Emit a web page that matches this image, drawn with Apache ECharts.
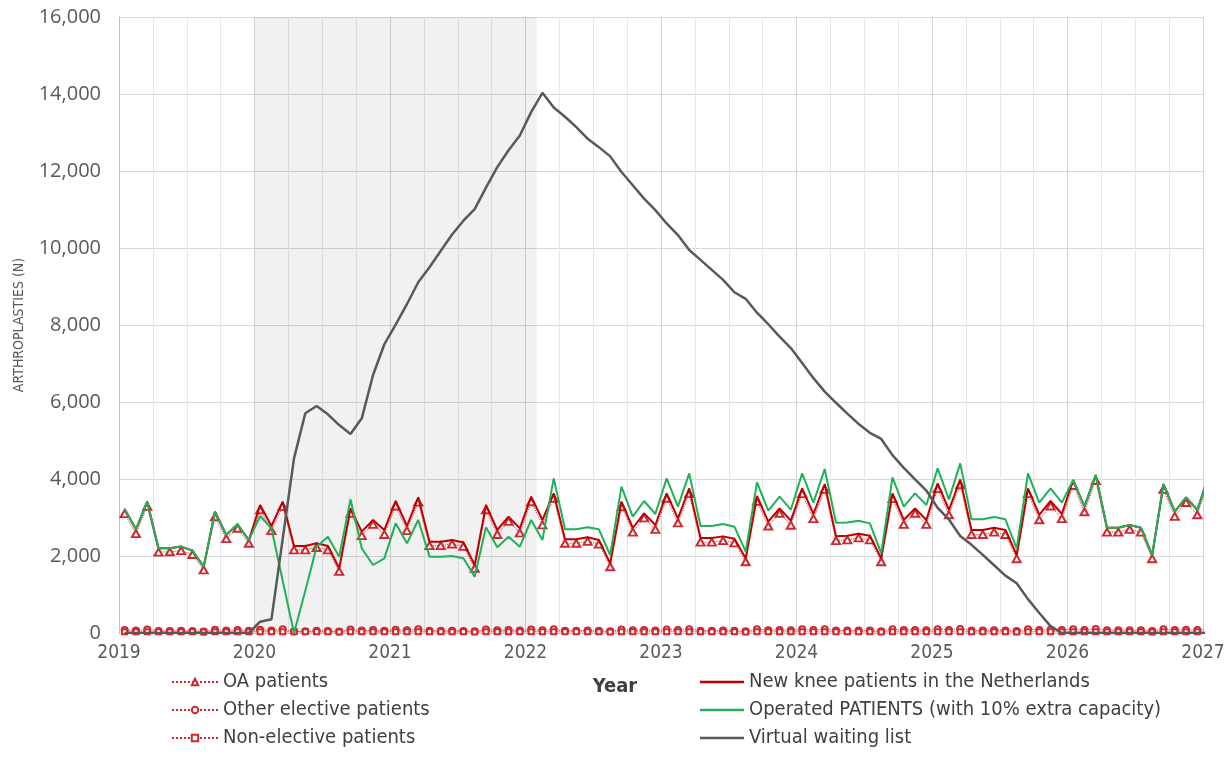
<!DOCTYPE html>
<html>
<head>
<meta charset="utf-8">
<script src="https://cdn.jsdelivr.net/npm/echarts@6/dist/echarts.min.js"></script>
<style>
html,body{margin:0;padding:0;background:#fff;}
#chart{width:1231px;height:780px;}
</style>
</head>
<body>
<div id="chart"></div>
<script>
// ---- Data (monthly, Jan 2019 .. Jan 2027) ----
const startYear = 2019;
const monthCount = 97;
const yearTicks = [2019, 2020, 2021, 2022, 2023, 2024, 2025, 2026, 2027];
const lockdownPeriod = ['2020-01', '2022-01']; // shaded period (first month, last month)

const oaPatients = [
  3100,2580,3290,2100,2110,2140,2040,1640,3020,2450,2720,2330,
  3200,2660,3290,2160,2160,2220,2160,1600,3110,2530,2820,2560,
  3300,2660,3400,2270,2270,2310,2250,1680,3200,2560,2900,2600,
  3410,2810,3500,2330,2330,2380,2310,1720,3280,2620,2990,2690,
  3500,2860,3620,2360,2360,2400,2340,1850,3420,2780,3110,2800,
  3620,2970,3730,2400,2420,2470,2420,1850,3490,2820,3110,2820,
  3750,3070,3850,2560,2560,2620,2560,1930,3620,2940,3300,2970,
  3830,3150,3960,2620,2620,2690,2620,1930,3730,3030,3390,3070,
  3960];
const otherElective = [
  80,65,90,55,55,60,55,40,85,65,75,60,
  85,65,95,40,45,60,55,40,90,65,75,60,
  85,70,95,60,60,60,55,45,90,70,75,65,
  90,70,95,60,60,65,60,45,90,70,80,65,
  90,75,100,60,60,65,60,45,95,70,80,70,
  95,75,100,65,65,65,65,45,95,75,80,70,
  95,80,105,65,65,70,65,50,100,75,85,75,
  100,80,105,70,70,70,70,50,100,75,85,75,
  100];
const nonElective = [
  35,30,35,30,30,30,30,25,35,30,30,30,
  35,30,35,30,30,30,30,25,35,30,30,30,
  35,30,35,30,30,30,30,25,35,30,30,30,
  35,30,35,30,30,30,30,25,35,30,30,30,
  35,30,35,30,30,30,30,25,35,30,30,30,
  35,30,35,30,30,30,30,25,35,30,30,30,
  35,30,35,30,30,30,30,25,35,30,30,30,
  35,30,35,30,30,30,30,25,35,30,30,30,
  35];
const newKneePatients = [
  3221,2693,3411,2199,2200,2245,2140,1723,3151,2545,2823,2416,
  3325,2779,3411,2260,2260,2330,2260,1680,3238,2632,2935,2675,
  3429,2779,3524,2372,2372,2415,2350,1766,3325,2675,3021,2718,
  3541,2935,3628,2434,2434,2485,2416,1809,3411,2727,3108,2805,
  3628,2978,3757,2467,2467,2510,2450,1939,3558,2892,3238,2918,
  3757,3091,3870,2510,2527,2580,2527,1939,3628,2935,3238,2935,
  3887,3195,3991,2675,2675,2736,2675,2026,3757,3065,3429,3091,
  3974,3281,4104,2736,2736,2805,2736,2026,3870,3151,3524,3195,
  4100];
const operatedPatients = [
  3221,2693,3411,2199,2200,2245,2140,1723,3151,2545,2823,2416,
  3039,2720,1350,0,1100,2242,2502,1983,3472,2199,1766,1939,
  2848,2329,2935,1983,1983,2000,1940,1463,2744,2225,2502,2242,
  2935,2416,4017,2693,2693,2744,2693,2026,3801,3021,3429,3091,
  4017,3281,4147,2779,2779,2830,2762,2112,3913,3177,3541,3203,
  4147,3385,4260,2865,2870,2918,2848,2069,4043,3281,3628,3325,
  4277,3472,4407,2952,2952,3012,2952,2199,4147,3385,3757,3385,
  3974,3281,4104,2736,2736,2805,2736,2026,3870,3151,3524,3195,
  4100];
const virtualWaitingList = [
  0,0,0,0,0,0,0,0,0,0,0,0,
  294,355,2450,4537,5706,5896,5680,5400,5169,5576,6700,7500,
  8009,8540,9110,9500,9930,10350,10710,11010,11570,12100,12540,12920,
  13530,14030,13650,13410,13140,12840,12620,12380,11974,11629,11284,10983,
  10638,10336,9948,9690,9431,9172,8850,8680,8320,8020,7700,7400,
  7010,6620,6270,5980,5700,5430,5200,5040,4620,4290,3990,3700,
  3250,2950,2520,2290,2030,1760,1490,1290,880,520,180,0,
  0,0,0,0,0,0,0,0,0,0,0,0,
  0];
const yTicks = [0, 2000, 4000, 6000, 8000, 10000, 12000, 14000, 16000];

// ---- helpers ----
// month index -> decimal year at mid-month
const monthX = [];
for (let i = 0; i < monthCount; i++) monthX.push(startYear + (i + 0.5) / 12);
function ym(s, end) { const [y, m] = s.split('-').map(Number); return y + (m - 1 + (end ? 1 : 0)) / 12; }
const pair = arr => arr.map((v, i) => [monthX[i], v]);

const RED = '#c00000', MRED = '#cc2a30', GREEN = '#21b05a', GRAY = '#595959';
const condensed = "'DejaVu Sans Condensed', 'Liberation Sans Narrow', sans-serif";

const chart = echarts.init(document.getElementById('chart'), null, {renderer: 'canvas'});
chart.setOption({
  animation: false,
  backgroundColor: '#ffffff',
  grid: {left: 119, right: 28, top: 17, bottom: 147, containLabel: false},
  xAxis: {
    type: 'value', min: yearTicks[0], max: yearTicks[yearTicks.length - 1], interval: 1,
    name: 'Year', nameLocation: 'middle', nameGap: 44,
    nameTextStyle: {fontFamily: condensed, fontSize: 20, fontWeight: 'bold', color: '#404040', padding: [0, 92, 0, 0]},
    axisLine: {show: true, lineStyle: {color: '#bfbfbf', width: 1}},
    axisTick: {show: false},
    axisLabel: {fontFamily: condensed, fontSize: 19, color: '#595959', margin: 11,
      formatter: v => yearTicks.includes(v) ? String(v) : ''},
    splitLine: {show: true, lineStyle: {color: '#d4d4d4', width: 1}},
    minorTick: {show: false, splitNumber: 4},
    minorSplitLine: {show: true, lineStyle: {color: '#e7e7e7', width: 1}}
  },
  yAxis: {
    type: 'value', min: yTicks[0], max: yTicks[yTicks.length - 1], interval: 2000,
    name: 'ARTHROPLASTIES (N)', nameLocation: 'middle', nameGap: 93, nameRotate: 90,
    nameTextStyle: {fontFamily: condensed, fontSize: 14, color: '#595959'},
    axisLine: {show: true, lineStyle: {color: '#bfbfbf', width: 1}},
    axisTick: {show: false},
    axisLabel: {fontFamily: "'Open Sans', sans-serif", fontSize: 20, color: '#595959', margin: 18,
      formatter: v => v.toLocaleString('en-US')},
    splitLine: {show: true, lineStyle: {color: '#d9d9d9', width: 1}}
  },
  legend: [
    {
      orient: 'vertical', left: 171, top: 672, padding: 0, itemWidth: 46, itemHeight: 8, itemGap: 8,
      textStyle: {fontFamily: condensed, fontSize: 20, color: '#404040', lineHeight: 20},
      data: ['OA patients', 'Other elective patients', 'Non-elective patients']
    },
    {
      orient: 'vertical', left: 700, top: 672, padding: 0, itemWidth: 44, itemHeight: 2.5, itemGap: 8,
      icon: 'rect',
      textStyle: {fontFamily: condensed, fontSize: 20, color: '#404040', lineHeight: 20},
      data: ['New knee patients in the Netherlands', 'Operated PATIENTS (with 10% extra capacity)', 'Virtual waiting list']
    }
  ],
  series: [
    {
      name: 'OA patients', type: 'line', data: pair(oaPatients), z: 2,
      symbol: 'emptyTriangle', symbolSize: [8, 7],
      lineStyle: {color: MRED, width: 1, type: 'dotted'},
      itemStyle: {color: MRED, borderWidth: 0.9},
      markArea: {
        silent: true,
        itemStyle: {color: 'rgba(0,0,0,0.055)'},
        data: [[{xAxis: ym(lockdownPeriod[0], false)}, {xAxis: ym(lockdownPeriod[1], true)}]]
      }
    },
    {
      name: 'Other elective patients', type: 'line', data: pair(otherElective), z: 2,
      symbol: 'emptyCircle', symbolSize: 6,
      lineStyle: {color: MRED, width: 1, type: 'dotted'},
      itemStyle: {color: MRED, borderWidth: 1}
    },
    {
      name: 'Non-elective patients', type: 'line', data: pair(nonElective), z: 2,
      symbol: 'emptyRect', symbolSize: 5,
      lineStyle: {color: MRED, width: 1, type: 'dotted'},
      itemStyle: {color: MRED, borderWidth: 0.9}
    },
    {
      name: 'New knee patients in the Netherlands', type: 'line', data: pair(newKneePatients), z: 3,
      showSymbol: false, symbol: 'none',
      lineStyle: {color: RED, width: 2}, itemStyle: {color: RED}
    },
    {
      name: 'Operated PATIENTS (with 10% extra capacity)', type: 'line', data: pair(operatedPatients), z: 4,
      showSymbol: false, symbol: 'none',
      lineStyle: {color: GREEN, width: 2}, itemStyle: {color: GREEN}
    },
    {
      name: 'Virtual waiting list', type: 'line', data: pair(virtualWaitingList), z: 5,
      showSymbol: false, symbol: 'none',
      lineStyle: {color: GRAY, width: 2.5}, itemStyle: {color: GRAY}
    }
  ]
});
</script>
</body>
</html>
